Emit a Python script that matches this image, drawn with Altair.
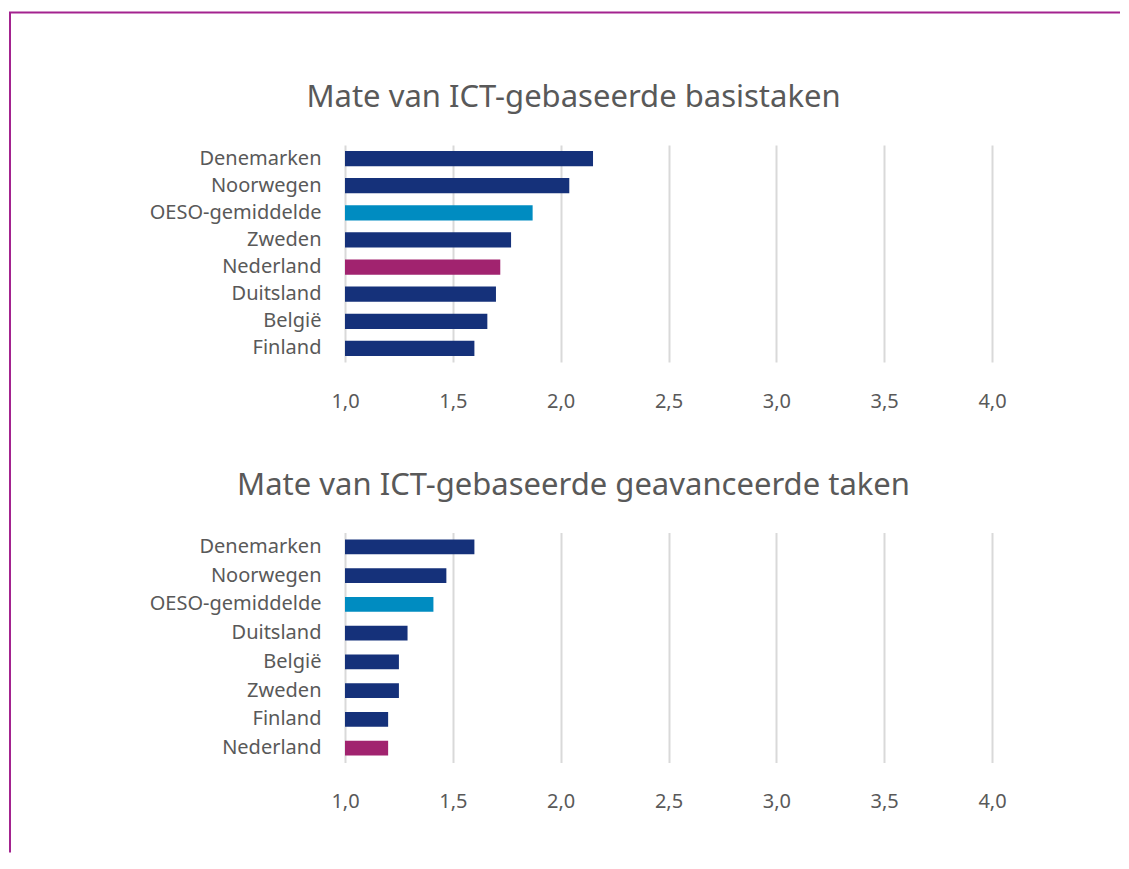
import altair as alt
import pandas as pd

# ---- data ----
cats_basis = ["Denemarken", "Noorwegen", "OESO-gemiddelde", "Zweden", "Nederland",
              "Duitsland", "België", "Finland"]
vals_basis = [2.15, 2.04, 1.87, 1.77, 1.72, 1.70, 1.66, 1.60]

cats_adv = ["Denemarken", "Noorwegen", "OESO-gemiddelde", "Duitsland", "België",
            "Zweden", "Finland", "Nederland"]
vals_adv = [1.60, 1.47, 1.41, 1.29, 1.25, 1.25, 1.20, 1.20]

tick_values = [1.0, 1.5, 2.0, 2.5, 3.0, 3.5, 4.0]
title_basis = "Mate van ICT-gebaseerde basistaken"
title_adv = "Mate van ICT-gebaseerde geavanceerde taken"

group_domain = ["Nederland", "OESO-gemiddelde", "overig"]
group_colors = ["#A1236F", "#008CC1", "#15317A"]


def group_of(c):
    return c if c in ("Nederland", "OESO-gemiddelde") else "overig"


df_basis = pd.DataFrame({"land": cats_basis, "waarde": vals_basis,
                         "groep": [group_of(c) for c in cats_basis]})
df_adv = pd.DataFrame({"land": cats_adv, "waarde": vals_adv,
                       "groep": [group_of(c) for c in cats_adv]})

FONT = "Noto Sans"
TXT = "#595959"
FRAME = "#A3238F"
W = 647


def bars_for(df, cats, pad_inner, x_title=None):
    if x_title is not None:
        extra = dict(title=x_title, titleFontSize=31, titleFont=FONT, titleColor=TXT,
                     titleFontWeight="normal", titleX=228, titleY=132.5,
                     titleAlign="center", titleBaseline="alphabetic")
    else:
        extra = dict(title=None)
    x_axis = alt.Axis(values=tick_values, grid=True, gridColor="#D9D9D9", gridWidth=2,
                      domain=False, ticks=False, labelFlush=False,
                      labelExpr="replace(format(datum.value, '.1f'), '.', ',')",
                      labelFontSize=20, labelColor=TXT, labelFont=FONT, labelPadding=29,
                      **extra)
    y_axis = alt.Axis(title=None, ticks=False, domain=False, grid=False,
                      labelFontSize=20, labelColor=TXT, labelFont=FONT, labelPadding=24)
    return alt.Chart(df).mark_bar().encode(
        x=alt.X("waarde:Q", scale=alt.Scale(domain=[1, 4], nice=False, zero=False), axis=x_axis),
        x2=alt.datum(1.0),
        y=alt.Y("land:N", sort=cats, axis=y_axis,
                scale=alt.Scale(paddingInner=pad_inner, paddingOuter=pad_inner / 2)),
        color=alt.Color("groep:N", scale=alt.Scale(domain=group_domain, range=group_colors),
                        legend=None),
    )


top_bars = bars_for(df_basis, cats_basis, 0.44, x_title=title_adv)
bot_bars = bars_for(df_adv, cats_adv, 0.48)

top_title = alt.TitleParams(title_basis, fontSize=31, font=FONT, color=TXT, fontWeight="normal",
                            anchor="middle", baseline="bottom", offset=0, dx=-95)

# decorative frame lines (top and left edge), drawn in the bottom panel's pixel space
one = pd.DataFrame({"k": [0]})
frame_top = alt.Chart(one).mark_rule(color=FRAME, strokeWidth=2).encode(
    x=alt.value(-336), x2=alt.value(775), y=alt.value(-520))
frame_left = alt.Chart(one).mark_rule(color=FRAME, strokeWidth=2).encode(
    x=alt.value(-335), y=alt.value(-520), y2=alt.value(320))

top = top_bars.properties(width=W, height=217, title=top_title)
bottom = alt.layer(frame_top, frame_left, bot_bars).properties(width=W, height=230)

chart = alt.vconcat(top, bottom, spacing=170.5, bounds="flush").properties(
    padding={"left": 0, "top": 3, "right": 0, "bottom": 0}
).configure_view(stroke=None)

chart.save("out.html", embed_options={"renderer": "svg", "actions": False})
